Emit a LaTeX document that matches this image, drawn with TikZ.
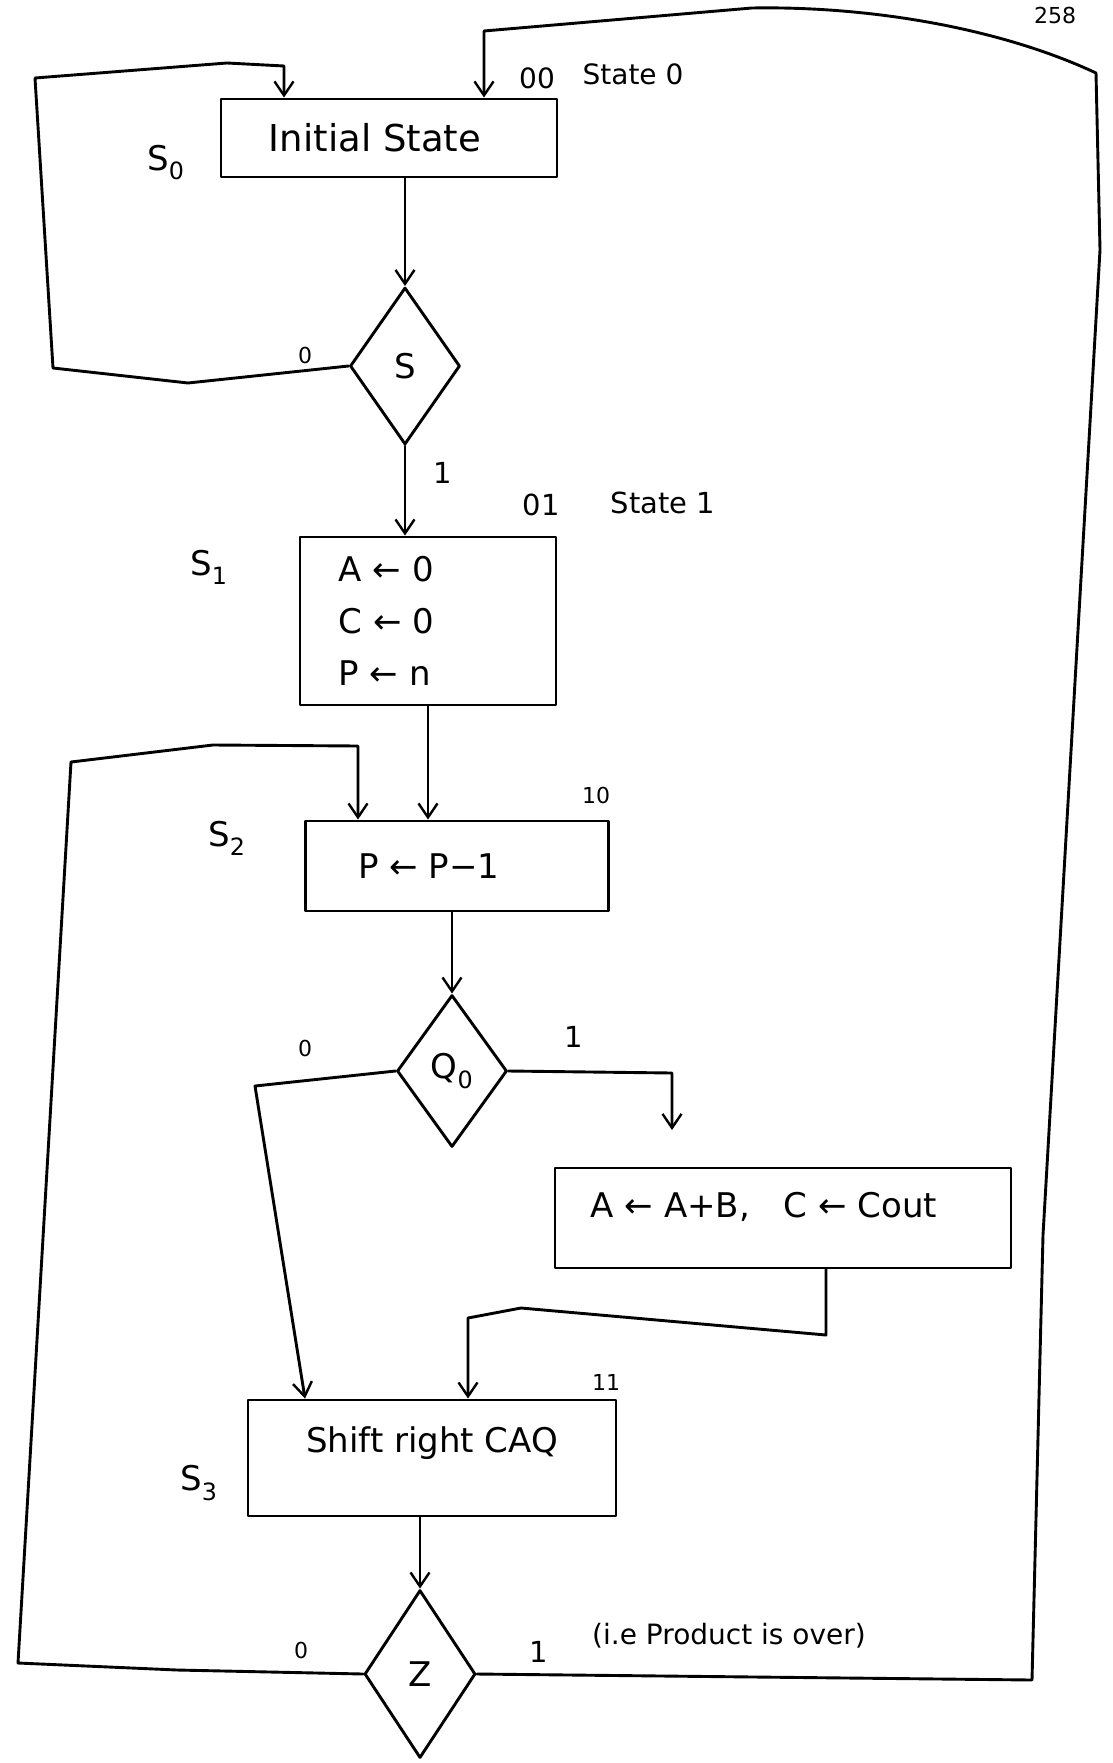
\documentclass[tikz,border=0pt]{standalone}
\usepackage{fontspec}
\setmainfont{DejaVu Sans}
\usetikzlibrary{shapes.geometric,arrows.meta,calc}

\begin{document}
\begin{tikzpicture}[x=1pt,y=-1pt,
  stroke/.style={line width=2.9pt, line join=round, line cap=round},
  box/.style={stroke, draw, rectangle, inner sep=0pt},
  dec/.style={stroke, draw, diamond, inner sep=0pt},
  flow/.style={stroke, -{Straight Barb[length=14pt,width=19pt,line width=2.4pt]}},
  big/.style={font=\fontsize{34}{40}\selectfont},
  mid/.style={font=\fontsize{29}{33}\selectfont},
  small/.style={font=\fontsize{22}{26}\selectfont},
  note/.style={font=\fontsize{28}{32}\selectfont},
]
\fill[white] (0,0) rectangle (1112,1763);
\useasboundingbox (0,0) rectangle (1112,1763);

% ---- blocks of the controller flow chart ----
\node[box, font=\fontsize{37}{42}\selectfont, minimum width=336pt, minimum height=78pt] (init) at (389,138) {Initial State\hspace*{28pt}};
\node[dec, big, minimum width=110pt, minimum height=157pt] (s) at (405,366) {S};
\node[box, big, minimum width=256pt, minimum height=168pt, align=left,
      text width=180pt, inner xsep=38pt] (s1) at (428,621)
      {A ← 0\\[12pt]C ← 0\\[12pt]P ← n};
\node[box, big, minimum width=303pt, minimum height=90pt] (s2) at (457,866) {P ← P−1\hspace*{56pt}};
\node[dec, big, minimum width=110pt, minimum height=152pt] (q0) at (452,1071) {Q\textsubscript{0}};
\node[box, big, minimum width=456pt, minimum height=100pt] (addb) at (783,1218)
      {\raisebox{11pt}[\height][\depth]{A ← A+B,\quad C ← Cout}\hspace*{38pt}};
\node[box, big, minimum width=368pt, minimum height=116pt] (s3) at (432,1458)
      {\raisebox{15pt}[\height][\depth]{Shift right CAQ}};
\node[dec, big, minimum width=111pt, minimum height=168pt] (z) at (420,1674) {Z};

% ---- state names and codes ----
\node[big] (n-s0) at (166,163) {S\textsubscript{0}};
\node[big] (n-s1) at (209,567) {S\textsubscript{1}};
\node[big] (n-s2) at (227,838) {S\textsubscript{2}};
\node[big] (n-s3) at (199,1483) {S\textsubscript{3}};
\node[note] (c-00) at (537,78) {00};
\node[note] (t-st0) at (633,74) {State 0};
\node[mid] (c-01) at (541,505) {01};
\node[mid] (t-st1) at (663,503) {State 1};
\node[small] (c-10) at (596,795) {10};
\node[small] (c-11) at (606,1382) {11};
\node[small] (pg) at (1055,15) {258};

% ---- branch values ----
\node[small] (s-0) at (305,355) {0};
\node[mid] (s-1) at (443,473) {1};
\node[small] (q-0) at (305,1048) {0};
\node[mid] (q-1) at (574,1037) {1};
\node[small] (z-0) at (301,1650) {0};
\node[mid] (z-1) at (539,1652) {1};
\node[note] (z-note) at (729,1636) {(i.e Product is over)};

% ---- bend points ----
\coordinate (a1) at (188,383);
\coordinate (a2) at (53,368);
\coordinate (a3) at (35,78);
\coordinate (a4) at (227,63);
\coordinate (a5) at (284,66);

\coordinate (b1) at (1032,1680);
\coordinate (b2) at (1043,1235);
\coordinate (b3) at (1100,250);
\coordinate (b4) at (1096,73);
\coordinate (b7) at (752,8);
\coordinate (b8) at (484,31);

\coordinate (c1) at (177,1670);
\coordinate (c2) at (18,1663);
\coordinate (c3) at (71,762);
\coordinate (c4) at (213,745);
\coordinate (c5) at (358,746);

\coordinate (d1) at (672,1073);
\coordinate (d2) at (672,1130);

\coordinate (e1) at (826,1335);
\coordinate (e2) at (521,1308);
\coordinate (e3) at (468,1318);

\coordinate (f1) at (255,1086);
\coordinate (f2) at (305,1300);

% ---- connectors ----
\draw[flow] (init.south -| s.north) -- (s.north);
\draw[flow] (s.west) -- (a1) -- (a2) -- (a3) -- (a4) -- (a5) -- (a5 |- init.north);
\draw[flow] (s.south) -- (s.south |- s1.north);
\draw[flow] (s1.south) -- (s1.south |- s2.north);
\draw[flow] (s2.south -| q0.north) -- (q0.north);
\draw[flow] (q0.east) -- (d1) -- (d2);
\draw[flow] (addb.south -| e1) -- (e1) -- (e2) -- (e3) -- (e3 |- s3.north);
\draw[flow] (q0.west) -- (f1) -- (f2 |- s3.north);
\draw[flow] (z.north |- s3.south) -- (z.north);
\draw[flow] (z.west) -- (c1) -- (c2) -- (c3) -- (c4) -- (c5) -- (c5 |- s2.north);
\draw[flow] (z.east) -- (b1) -- (b2) -- (b3) -- (b4)
  .. controls (1000,28) and (870,6) .. (b7) -- (b8) -- (b8 |- init.north);
\end{tikzpicture}
\end{document}
